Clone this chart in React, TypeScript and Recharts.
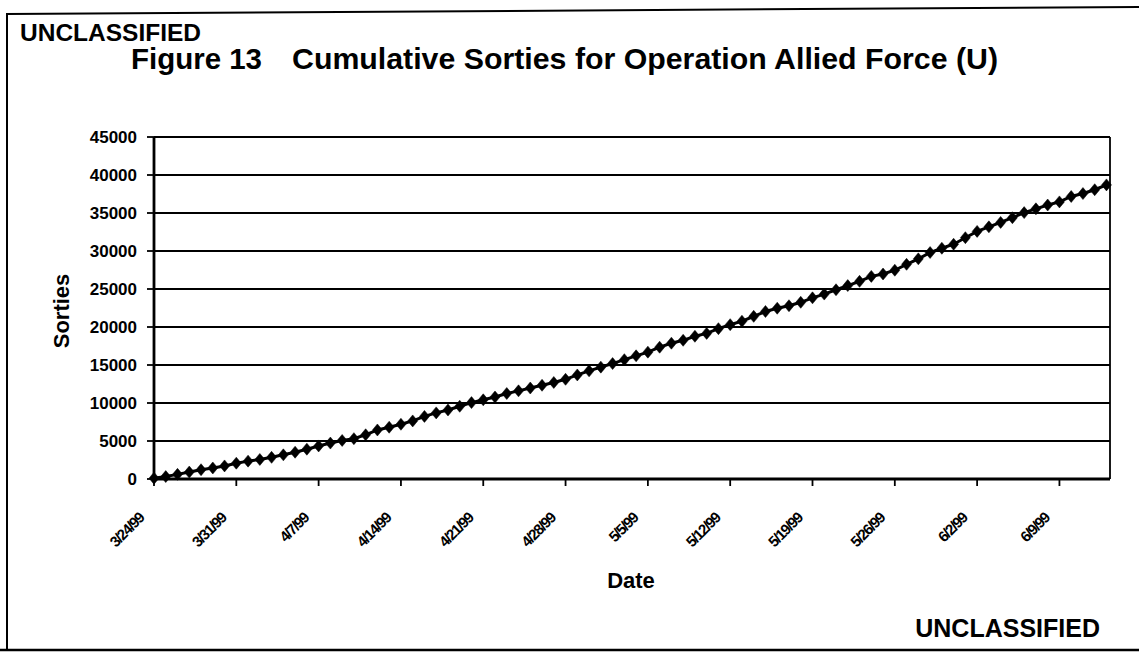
import React from 'react';
import { LineChart, Line, XAxis, YAxis, CartesianGrid, ReferenceLine } from 'recharts';

// Daily dates 3/24/99 .. 6/13/99
const monthSpans: number[][] = [
  [3, 24, 31],
  [4, 1, 30],
  [5, 1, 31],
  [6, 1, 13],
];
const dates: string[] = [];
monthSpans.forEach(([m, a, b]) => {
  for (let d = a; d <= b; d++) dates.push(`${m}/${d}/99`);
});

// Cumulative sorties
const sorties: number[] = [
  100, 320, 610, 910, 1220, 1450, 1720, 2080, 2350, 2570,
  2850, 3180, 3520, 3920, 4350, 4730, 5070, 5310, 5820, 6450,
  6810, 7200, 7640, 8240, 8700, 9080, 9570, 10050, 10420, 10790,
  11250, 11600, 11970, 12330, 12700, 13120, 13690, 14230, 14720, 15190,
  15700, 16210, 16690, 17340, 17870, 18250, 18780, 19160, 19780, 20310,
  20760, 21400, 22040, 22470, 22800, 23250, 23840, 24330, 24900, 25450,
  26010, 26660, 26970, 27470, 28250, 28970, 29800, 30360, 30890, 31750,
  32580, 33180, 33760, 34380, 35050, 35550, 36050, 36460, 37170, 37560,
  38060, 38700,
];

const xTickLabels: string[] = [
  '3/24/99', '3/31/99', '4/7/99', '4/14/99', '4/21/99', '4/28/99',
  '5/5/99', '5/12/99', '5/19/99', '5/26/99', '6/2/99', '6/9/99',
];
const yTicks: number[] = [0, 5000, 10000, 15000, 20000, 25000, 30000, 35000, 40000, 45000];

const data = dates.map((date, i) => ({ day: i, date, sorties: sorties[i] }));
const xTicks = xTickLabels.map((l) => dates.indexOf(l));

const FONT = "'Liberation Sans', Arial, Helvetica, sans-serif";

const Diamond = (props: any) => {
  const { cx, cy } = props;
  if (cx == null || cy == null) return null;
  return (
    <polygon
      points={`${cx},${cy - 6} ${cx + 5},${cy} ${cx},${cy + 6} ${cx - 5},${cy}`}
      fill="#000"
      stroke="#000"
      strokeWidth={0.5}
    />
  );
};

const XTick = (props: any) => {
  const { x, y, payload } = props;
  const label = dates[payload.value] ?? '';
  const px = x - 9;
  const py = y + 33;
  return (
    <text
      x={px}
      y={py}
      transform={`rotate(-45, ${px}, ${py})`}
      textAnchor="end"
      fontFamily={FONT}
      fontWeight="bold"
      fontSize={15}
      letterSpacing={-1.3}
      fill="#000"
    >
      {label}
    </text>
  );
};

export default function App() {
  return (
    <div style={{ position: 'absolute', left: 0, top: 0, width: 1139, height: 652, background: '#fff' }}>
      <LineChart
        width={1139}
        height={652}
        data={data}
        margin={{ top: 137, right: 29, bottom: 0, left: 0 }}
      >
        <CartesianGrid horizontal vertical={false} stroke="#000" strokeWidth={1.8} />
        <XAxis
          dataKey="day"
          type="number"
          domain={[0, 81.3]}
          ticks={xTicks}
          interval={0}
          height={173}
          tick={<XTick />}
          tickSize={7}
          tickMargin={0}
          axisLine={{ stroke: '#000', strokeWidth: 2.8 }}
          tickLine={{ stroke: '#000', strokeWidth: 1.8 }}
        />
        <YAxis
          type="number"
          domain={[0, 45000]}
          ticks={yTicks}
          interval={0}
          width={154}
          tickSize={7}
          tickMargin={10}
          axisLine={{ stroke: '#000', strokeWidth: 2.8 }}
          tickLine={{ stroke: '#000', strokeWidth: 1.8 }}
          tick={{ fill: '#000', fontFamily: FONT, fontWeight: 'bold', fontSize: 17 }}
        />
        <ReferenceLine x={81.3} stroke="#000" strokeWidth={1.8} ifOverflow="visible" />
        <Line
          type="linear"
          dataKey="sorties"
          stroke="#000"
          strokeWidth={3}
          dot={<Diamond />}
          isAnimationActive={false}
        />
      </LineChart>
      <svg
        width={1139}
        height={652}
        style={{ position: 'absolute', left: 0, top: 0, pointerEvents: 'none' }}
      >
        <line x1={6} y1={14} x2={1139} y2={7} stroke="#000" strokeWidth={2} />
        <line x1={7} y1={13} x2={7} y2={651} stroke="#000" strokeWidth={2} />
        <line x1={0} y1={650} x2={1139} y2={650} stroke="#000" strokeWidth={2.5} />
        <text x={20} y={41} fontFamily={FONT} fontWeight="bold" fontSize={24} textLength={181} lengthAdjust="spacingAndGlyphs" fill="#000">
          UNCLASSIFIED
        </text>
        <text x={131} y={69} fontFamily={FONT} fontWeight="bold" fontSize={30} textLength={131} lengthAdjust="spacingAndGlyphs" fill="#000">
          Figure 13
        </text>
        <text x={292} y={69} fontFamily={FONT} fontWeight="bold" fontSize={30} textLength={706} lengthAdjust="spacingAndGlyphs" fill="#000">
          Cumulative Sorties for Operation Allied Force (U)
        </text>
        <text
          x={61}
          y={311}
          transform="rotate(-90, 61, 311)"
          textAnchor="middle"
          dominantBaseline="central"
          fontFamily={FONT}
          fontWeight="bold"
          fontSize={22}
          fill="#000"
        >
          Sorties
        </text>
        <text x={631} y={588} textAnchor="middle" fontFamily={FONT} fontWeight="bold" fontSize={22} fill="#000">
          Date
        </text>
        <text x={1100} y={637} textAnchor="end" fontFamily={FONT} fontWeight="bold" fontSize={25} fill="#000">
          UNCLASSIFIED
        </text>
      </svg>
    </div>
  );
}
